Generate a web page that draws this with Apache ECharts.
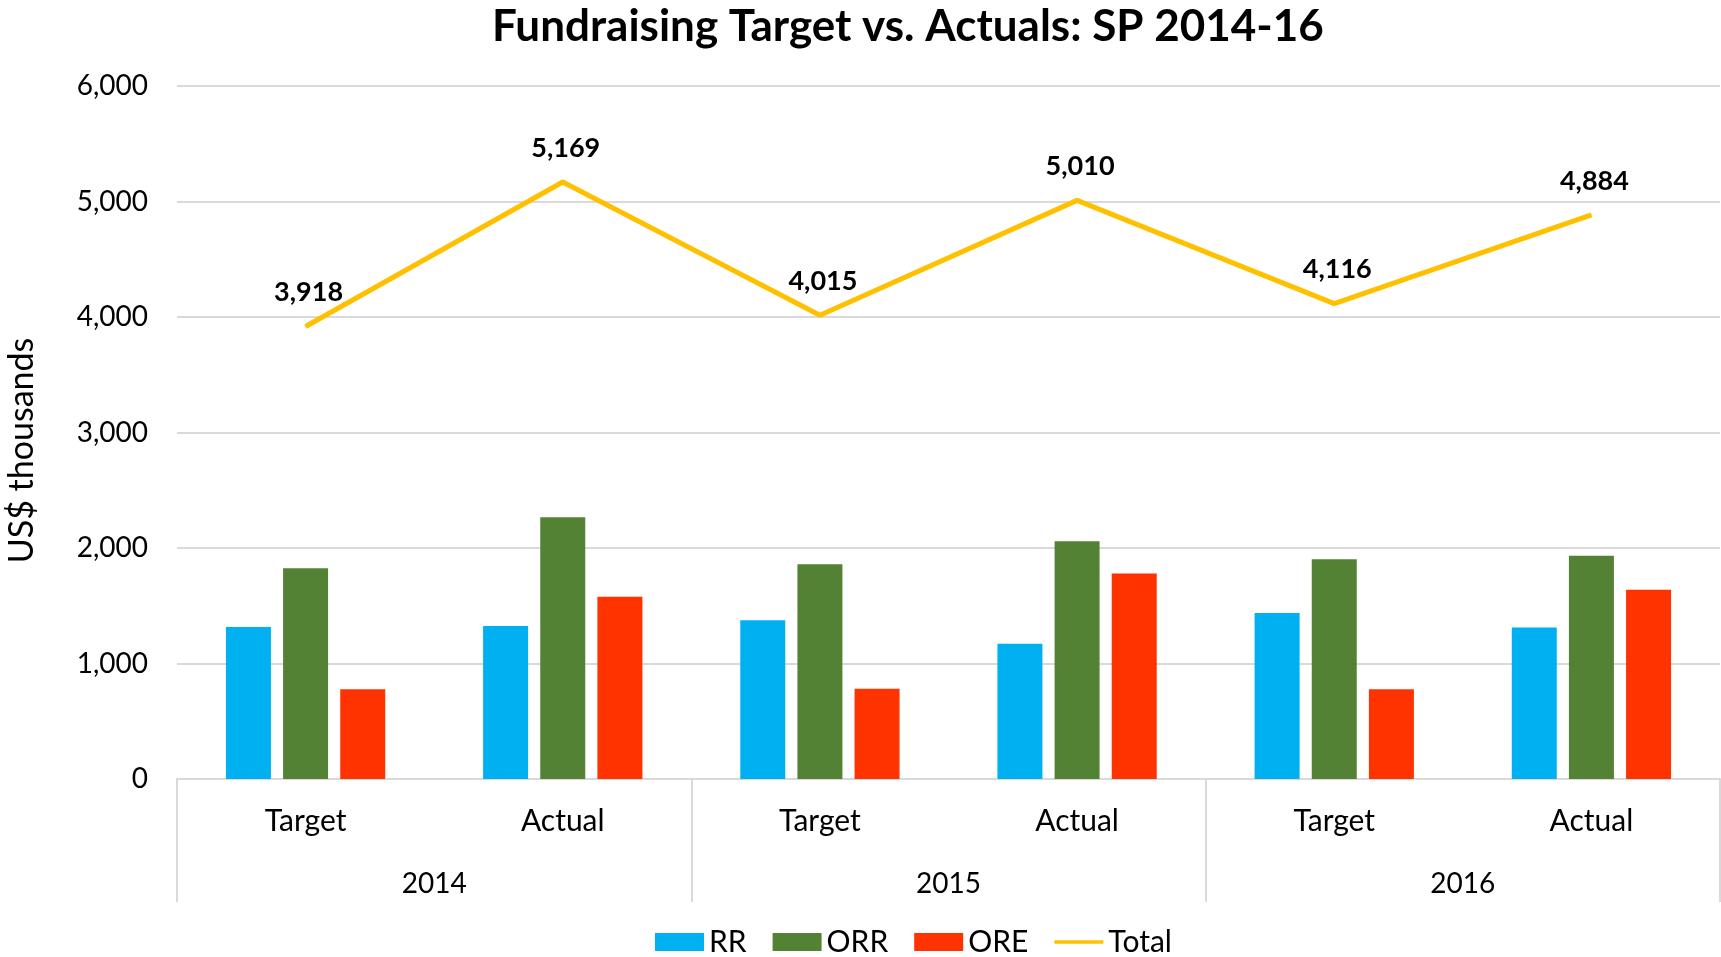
<!DOCTYPE html>
<html>
<head>
<meta charset="utf-8">
<script src="https://cdn.jsdelivr.net/npm/echarts@6/dist/echarts.min.js"></script>
<style>
  html, body { margin: 0; padding: 0; background: #fff; }
  #chart { width: 1721px; height: 957px; }
</style>
</head>
<body>
<div id="chart"></div>
<script>
  // categories
  var phases = ['Target', 'Actual', 'Target', 'Actual', 'Target', 'Actual'];
  var years = ['2014', '2015', '2016'];
  var yTicks = [0, 1000, 2000, 3000, 4000, 5000, 6000];

  // values, US$ thousands
  var rr = [1316, 1325, 1374, 1172, 1438, 1312];
  var orr = [1824, 2266, 1860, 2058, 1902, 1933];
  var ore = [778, 1578, 781, 1780, 776, 1639];
  var total = [3918, 5169, 4015, 5010, 4116, 4884];

  var colors = ['#00B0F0', '#548235', '#FF3300', '#FFC000'];
  var font = 'Lato, "Open Sans", sans-serif';

  function fmt(v) {
    return String(v).replace(/\B(?=(\d{3})+(?!\d))/g, ',');
  }

  var myChart = echarts.init(document.getElementById('chart'));
  var option = {
    backgroundColor: '#fff',
    textStyle: { fontFamily: font, color: '#000' },
    title: {
      text: 'Fundraising Target vs. Actuals: SP 2014-16',
      left: 487,
      top: 0,
      textStyle: { fontFamily: font, fontSize: 44, fontWeight: 'bold', color: '#000' }
    },
    legend: {
      bottom: -5,
      left: 650,
      itemWidth: 49,
      itemHeight: 18,
      itemGap: 26,
      textStyle: { fontFamily: font, fontSize: 30, color: '#000' },
      data: [
        { name: 'RR', icon: 'rect' },
        { name: 'ORR', icon: 'rect' },
        { name: 'ORE', icon: 'rect' },
        { name: 'Total', icon: 'path://M0,7 L54,7 L54,11 L0,11 Z', itemStyle: { color: colors[3] } }
      ]
    },
    grid: { left: 177, right: 1, top: 86, bottom: 178, containLabel: false, outerBoundsMode: 'none' },
    xAxis: [
      {
        type: 'category',
        data: phases,
        position: 'bottom',
        axisLine: { show: true, lineStyle: { color: '#d9d9d9', width: 2 } },
        axisTick: { show: false },
        axisLabel: { margin: 27, fontSize: 30, color: '#000', fontFamily: font }
      },
      {
        type: 'category',
        data: years,
        position: 'bottom',
        boundaryGap: true,
        axisLine: { show: false },
        axisTick: { show: true, length: 123, lineStyle: { color: '#d9d9d9', width: 2 } },
        axisLabel: { margin: 91, fontSize: 28, color: '#000', fontFamily: font }
      }
    ],
    yAxis: {
      type: 'value',
      name: 'US$ thousands',
      nameLocation: 'middle',
      nameGap: 138,
      nameTextStyle: { fontSize: 34, color: '#000', fontFamily: font, padding: [0, 36, 0, 0] },
      min: yTicks[0],
      max: yTicks[yTicks.length - 1],
      interval: 1000,
      axisLine: { show: false },
      axisTick: { show: false },
      splitLine: { lineStyle: { color: '#d9d9d9', width: 2 } },
      axisLabel: { margin: 29, fontSize: 28, color: '#000', fontFamily: font, formatter: fmt }
    },
    series: [
      {
        name: 'RR', type: 'bar', data: rr, barWidth: 45, barGap: '27%',
        itemStyle: { color: colors[0] }
      },
      {
        name: 'ORR', type: 'bar', data: orr, barWidth: 45, barGap: '27%',
        itemStyle: { color: colors[1] }
      },
      {
        name: 'ORE', type: 'bar', data: ore, barWidth: 45, barGap: '27%',
        itemStyle: { color: colors[2] }
      },
      {
        name: 'Total', type: 'line', data: total,
        symbol: 'circle',
        symbolSize: 1,
        lineStyle: { color: colors[3], width: 5 },
        itemStyle: { color: colors[3] },
        label: {
          show: true, position: 'top', distance: 20, offset: [3, 0],
          fontSize: 27, fontWeight: 'bold', color: '#000', fontFamily: font,
          formatter: function (p) { return fmt(p.value); }
        },
        z: 5
      }
    ]
  };
  myChart.setOption(option);
</script>
</body>
</html>
